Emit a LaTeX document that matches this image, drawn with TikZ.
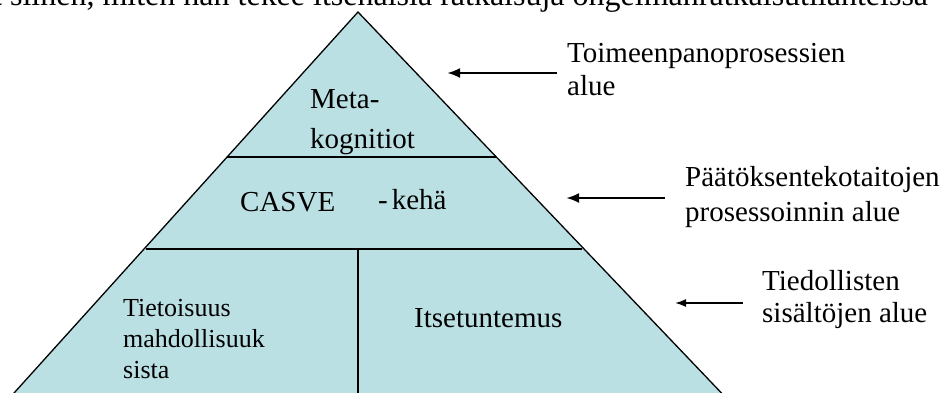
\documentclass[tikz,border=0pt]{standalone}
\usepackage{fontspec}
\setmainfont{Liberation Serif}
\usetikzlibrary{arrows.meta}
\definecolor{pyramid}{RGB}{187,224,227}
\tikzset{
    lbl/.style={font=\fontsize{29}{33}\selectfont, inner sep=0pt, anchor=base west},
    small lbl/.style={lbl, font=\fontsize{26}{30}\selectfont},
    pointer/.style={-{Latex[length=13pt,width=10pt]}, line width=2.6pt},
    thin pointer/.style={-{Latex[length=11pt,width=8pt]}, line width=1.7pt},
    level/.style={line width=1.4pt},
}

\begin{document}
\begin{tikzpicture}[x=1pt,y=-1pt]
\useasboundingbox (0,0) rectangle (946,392);
\clip (0,0) rectangle (946,392);

\coordinate (apex) at (358,12);
\coordinate (bl) at (5,403);
\coordinate (br) at (731,403);
\fill[pyramid] (apex) -- (bl) -- (br) -- cycle;
\draw[line width=1.3pt, line join=miter] (bl) -- (apex) -- (br);
\draw[level] (227,157) -- (496,157);
\draw[level] (146,249) -- (582,249);
\draw[level] (358,249) -- (358,400);

\node[lbl, font=\fontsize{32}{36}\selectfont] (intro) at (-7,5) {t siihen, miten hän tekee itsenäisiä ratkaisuja ongelmanratkaisutilanteissa};

\node[lbl] (meta) at (310,108) {Meta-};
\node[lbl] (kogn) at (310,148) {kognitiot};
\node[lbl] (casve) at (240,211) {CASVE};
\node[lbl] (keha) at (378,209) {-\hspace{4pt}kehä};
\node[small lbl] (tiet1) at (123,316) {Tietoisuus};
\node[small lbl] (tiet2) at (123,347) {mahdollisuuk};
\node[small lbl] (tiet3) at (123,378) {sista};
\node[lbl] (itse) at (414,327) {Itsetuntemus};

\node[lbl] (toim1) at (567,62) {Toimeenpanoprosessien};
\node[lbl] (toim2) at (567,95) {alue};
\node[lbl] (paat1) at (685,186) {Päätöksentekotaitojen};
\node[lbl] (paat2) at (685,221) {prosessoinnin alue};
\node[lbl] (tied1) at (762,290) {Tiedollisten};
\node[lbl] (tied2) at (762,322) {sisältöjen alue};

\coordinate (toim tail) at (557,73);
\coordinate (toim tip) at (447,73);
\coordinate (paat tail) at (665,198);
\coordinate (paat tip) at (566,198);
\coordinate (tied tail) at (743,303);
\coordinate (tied tip) at (675,303);
\draw[pointer] (toim tail) -- (toim tip);
\draw[pointer] (paat tail) -- (paat tip);
\draw[thin pointer] (tied tail) -- (tied tip);
\end{tikzpicture}
\end{document}
